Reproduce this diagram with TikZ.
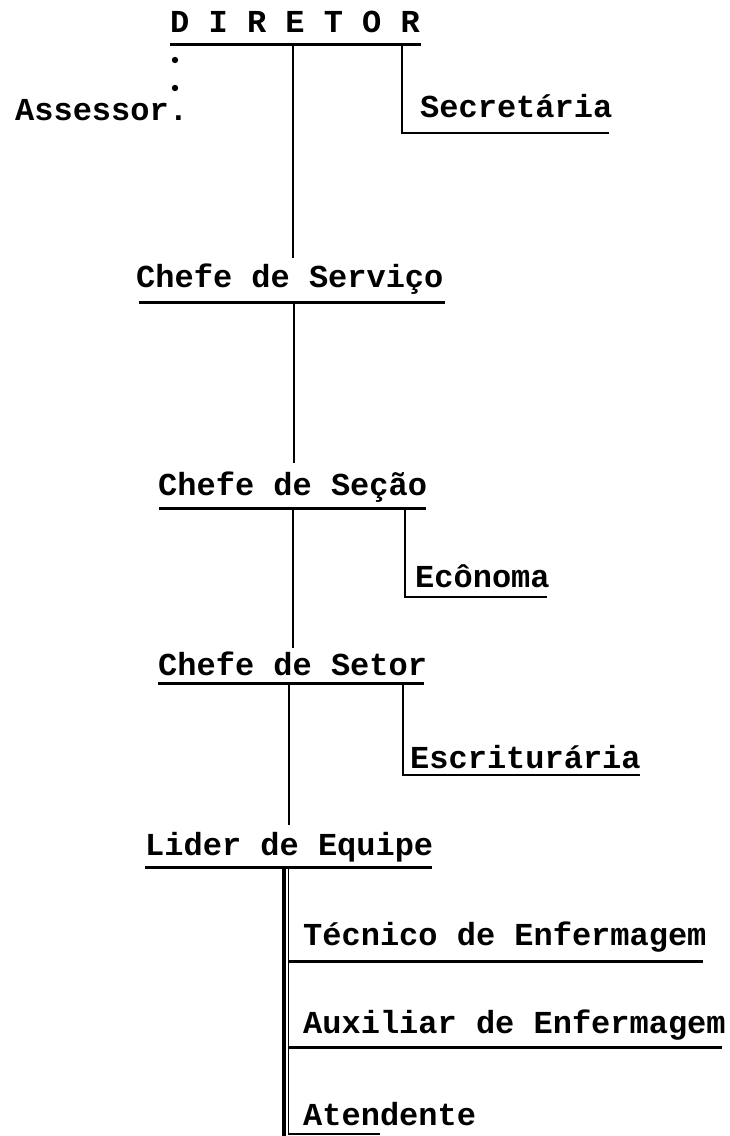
\documentclass[tikz,border=0pt]{standalone}
\usepackage{fontspec}
\setmonofont{Liberation Mono}
\begin{document}
\begin{tikzpicture}[x=1pt,y=-1pt,
  lbl/.style={anchor=base west,inner sep=0pt,font=\ttfamily\bfseries\fontsize{32}{32}\selectfont},
  uline/.style={line width=3pt},
  conn/.style={line width=2.6pt},
  thin conn/.style={line width=1.4pt}]
\useasboundingbox (0,0) rectangle (729,1136);
% labels
\node[lbl] (diretor) at (170,32) {D I R E T O R};
\node[lbl] (assessor) at (15,120) {Assessor.};
\node[lbl] (secretaria) at (420,117) {Secretária};
\node[lbl] (servico) at (136,287) {Chefe de Serviço};
\node[lbl] (secao) at (158,495) {Chefe de Seção};
\node[lbl] (economa) at (415,587) {Ecônoma};
\node[lbl] (setor) at (158,675) {Chefe de Setor};
\node[lbl] (escrit) at (410,768) {Escriturária};
\node[lbl] (lider) at (145,855) {Lider de Equipe};
\node[lbl] (tecnico) at (303,945) {Técnico de Enfermagem};
\node[lbl] (auxiliar) at (303,1033) {Auxiliar de Enfermagem};
\node[lbl] (atendente) at (303,1125) {Atendente};
% coordinates
\coordinate (dirL) at (170,44); \coordinate (dirR) at (421,44);
\coordinate (dirJ) at (293,44); \coordinate (dirS) at (402,44);
\coordinate (secC) at (402,133); \coordinate (secE) at (609,133);
\coordinate (srvT) at (293,258);
\coordinate (srvL) at (139,302); \coordinate (srvR) at (445,302);
\coordinate (srvJ) at (294,302); \coordinate (scoT) at (294,463);
\coordinate (scoL) at (159,508); \coordinate (scoR) at (426,508);
\coordinate (scoJ) at (293,508); \coordinate (scoS) at (405,508);
\coordinate (ecoC) at (405,597); \coordinate (ecoE) at (547,597);
\coordinate (setT) at (293,648);
\coordinate (setL) at (158,683); \coordinate (setR) at (424,683);
\coordinate (setJ) at (289,683); \coordinate (setS) at (403,683);
\coordinate (escC) at (403,775); \coordinate (escE) at (640,775);
\coordinate (lidT) at (289,825);
\coordinate (lidL) at (145,867); \coordinate (lidR) at (432,867);
\coordinate (lidJa) at (284,867); \coordinate (lidJb) at (288.5,867);
\coordinate (botA) at (284,1136); \coordinate (botB) at (288.5,1134);
\coordinate (tecL) at (288,961); \coordinate (tecR) at (703,961);
\coordinate (auxL) at (288,1047); \coordinate (auxR) at (722,1047);
\coordinate (atdE) at (380,1134);
% underlines
\draw[uline] (dirL) -- (dirR);
\draw[uline] (srvL) -- (srvR);
\draw[uline] (scoL) -- (scoR);
\draw[uline] (setL) -- (setR);
\draw[uline] (lidL) -- (lidR);
\draw[uline] (tecL) -- (tecR);
\draw[uline] (auxL) -- (auxR);
% dots to Assessor
\fill (175,60) circle (3.2);
\fill (175,88) circle (3.2);
% connectors
\draw[conn] (dirJ) -- (srvT);
\draw[conn] (dirS) -- (secC) -- (secE);
\draw[conn] (srvJ) -- (scoT);
\draw[conn] (scoJ) -- (setT);
\draw[conn] (scoS) -- (ecoC) -- (ecoE);
\draw[conn] (setJ) -- (lidT);
\draw[conn] (setS) -- (escC) -- (escE);
\draw[line width=3.4pt] (lidJa) -- (botA);
\draw[thin conn] (lidJb) -- (botB) -- (atdE);
\end{tikzpicture}
\end{document}
